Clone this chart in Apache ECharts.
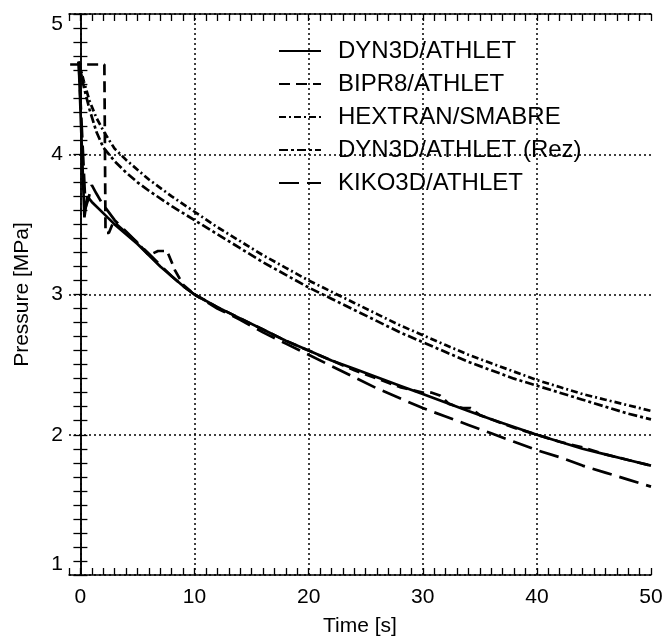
<!DOCTYPE html>
<html>
<head>
<meta charset="utf-8">
<script src="https://cdn.jsdelivr.net/npm/echarts@6/dist/echarts.min.js"></script>
<style>
html,body{margin:0;padding:0;background:#fff;}
#chart{width:668px;height:643px;}
</style>
</head>
<body>
<div id="chart"></div>
<script>
// ---- data (time [s], pressure [MPa]) ----
const seriesNames = ['DYN3D/ATHLET', 'BIPR8/ATHLET', 'HEXTRAN/SMABRE', 'DYN3D/ATHLET (Rez)', 'KIKO3D/ATHLET'];
const xLabelValues = [0, 10, 20, 30, 40, 50];
const xGridValues = [0, 10, 20, 30, 40];

const dyn3d = [[-0.15,4.66],[0.35,3.55],[0.6,3.70],[1,3.66],[2,3.58],[3,3.50],[4,3.43],[5,3.36],[6,3.28],[7,3.20],[8,3.13],[9,3.06],[10,3.0],
  [12,2.91],[14,2.83],[16,2.75],[18,2.67],[20,2.60],[22,2.53],[24,2.47],[26,2.41],[28,2.35],[30,2.29],[32,2.23],[34,2.17],[36,2.11],[38,2.055],
  [40,2.0],[42,1.95],[44,1.90],[46,1.86],[48,1.82],[50,1.78]];
const bipr8 = [[-0.9,4.64],[2.1,4.64],[2.2,3.44],[2.5,3.44],[2.9,3.52],[4,3.44],[5,3.37],[6,3.28],[6.8,3.31],[7.6,3.31],[8.3,3.17],[9,3.07],[10,3.0],
  [12,2.91],[14,2.83],[16,2.75],[18,2.67],[20,2.60],[22,2.53],[24,2.46],[26,2.40],[28,2.34],[30,2.30],[30.8,2.30],[31.5,2.28],[32.3,2.22],[33.5,2.19],
  [34.2,2.19],[35,2.14],[36,2.11],[38,2.05],[40,2.0],[42,1.95],[44,1.91],[46,1.86],[48,1.82],[50,1.78]];
const hextran = [[-0.15,4.66],[0.3,4.52],[0.8,4.38],[1.4,4.26],[2,4.17],[2.6,4.09],[3,4.04],[4,3.96],[5,3.89],[6,3.82],[8,3.70],[10,3.59],
  [12,3.48],[14,3.38],[16,3.28],[18,3.19],[20,3.10],[22,3.02],[24,2.94],[26,2.86],[28,2.78],[30,2.71],[32,2.64],[34,2.57],[36,2.51],[38,2.45],
  [40,2.39],[42,2.34],[44,2.29],[46,2.25],[48,2.21],[50,2.17]];
const dyn3dRez = [[-0.15,4.66],[0.3,4.48],[0.8,4.32],[1.4,4.16],[2,4.05],[3,3.95],[4,3.87],[5,3.80],[6,3.74],[8,3.63],[10,3.53],
  [12,3.43],[14,3.33],[16,3.23],[18,3.14],[20,3.05],[22,2.97],[24,2.89],[26,2.81],[28,2.73],[30,2.66],[32,2.59],[34,2.52],[36,2.46],[38,2.40],
  [40,2.35],[42,2.30],[44,2.25],[46,2.20],[48,2.15],[50,2.11]];
const kiko3d = [[-0.15,4.66],[0.45,3.62],[0.7,3.68],[1.0,3.78],[1.4,3.72],[1.9,3.65],[3,3.53],[4,3.45],[5,3.37],[6,3.29],[7,3.21],[8,3.13],[9,3.06],[10,3.0],
  [12,2.90],[14,2.82],[16,2.73],[18,2.65],[20,2.57],[22,2.49],[24,2.41],[26,2.33],[28,2.26],[30,2.19],[32,2.13],[34,2.07],[36,2.01],[38,1.95],
  [40,1.89],[42,1.84],[44,1.78],[46,1.73],[48,1.68],[50,1.63]];

const FONT = "'Liberation Sans', Arial, sans-serif";
const chart = echarts.init(document.getElementById('chart'));

const axisLine = { show: true, lineStyle: { color: '#000', width: 1.5 } };
const tickStyle = { color: '#000', width: 1.3 };

function mkX(pos, labels) {
  return {
    type: 'value', position: pos, min: -1, max: 50, interval: 1,
    axisLine: axisLine,
    axisTick: { show: true, inside: true, length: 7, lineStyle: tickStyle },
    axisLabel: labels ? {
      show: true, color: '#000', fontFamily: FONT, fontSize: 21, margin: 12,
      formatter: v => (xLabelValues.indexOf(Math.round(v)) >= 0 && Math.abs(v - Math.round(v)) < 1e-6) ? String(Math.round(v)) : ''
    } : { show: false },
    splitLine: { show: false },
    name: labels ? 'Time [s]' : '', nameLocation: 'middle', nameGap: 41,
    nameTextStyle: { color: '#000', fontFamily: FONT, fontSize: 21 }
  };
}
function mkY(pos, labels) {
  return {
    type: 'value', position: pos, min: 1, max: 5, interval: 1,
    axisLine: axisLine,
    axisTick: { show: true, inside: true, length: 7, lineStyle: tickStyle },
    minorTick: { show: true, splitNumber: 10, length: 7, lineStyle: tickStyle },
    axisLabel: labels ? {
      show: true, color: '#000', fontFamily: FONT, fontSize: 21, margin: 6,
      verticalAlignMinLabel: 'bottom', verticalAlignMaxLabel: 'top'
    } : { show: false },
    splitLine: labels ? { show: true, lineStyle: { color: '#000', width: 1.5, type: [2, 3] } } : { show: false },
    name: labels ? 'Pressure [MPa]' : '', nameLocation: 'middle', nameGap: 36, nameRotate: 90,
    nameTextStyle: { color: '#000', fontFamily: FONT, fontSize: 21 }
  };
}

const styles = [
  { type: 'solid' },
  { type: [11, 6] },
  { type: [7, 3, 2, 3] },
  { type: [9, 3, 3, 3] },
  { type: [20, 8] }
];
const datasets = [dyn3d, bipr8, hextran, dyn3dRez, kiko3d];

const series = datasets.map((d, i) => ({
  name: seriesNames[i], type: 'line', data: d, symbol: 'none', smooth: false,
  xAxisIndex: 0, yAxisIndex: 0,
  lineStyle: { color: '#000', width: 2.7, type: styles[i].type },
  itemStyle: { color: '#000' },
  z: 3
}));
series.push({
  name: 'grid', type: 'line', data: [], xAxisIndex: 0, yAxisIndex: 0,
  markLine: {
    silent: true, symbol: ['none', 'none'], animation: false,
    label: { show: false },
    lineStyle: { color: '#000', width: 1.5, type: [2, 3] },
    data: xGridValues.map(v => ({ xAxis: v }))
  }
});

chart.setOption({
  animation: false,
  backgroundColor: '#fff',
  grid: { left: 69, right: 17, top: 14, bottom: 68 },
  xAxis: [mkX('bottom', true), mkX('top', false)],
  yAxis: [mkY('left', true), mkY('right', false)],
  legend: {
    data: seriesNames, orient: 'vertical', left: 273, top: 34,
    itemWidth: 42, itemHeight: 14, itemGap: 9,
    itemStyle: { opacity: 0 },
    textStyle: { color: '#000', fontFamily: FONT, fontSize: 24, padding: [0, 0, 0, 12] },
    inactiveColor: '#000'
  },
  series: series
});
</script>
</body>
</html>
